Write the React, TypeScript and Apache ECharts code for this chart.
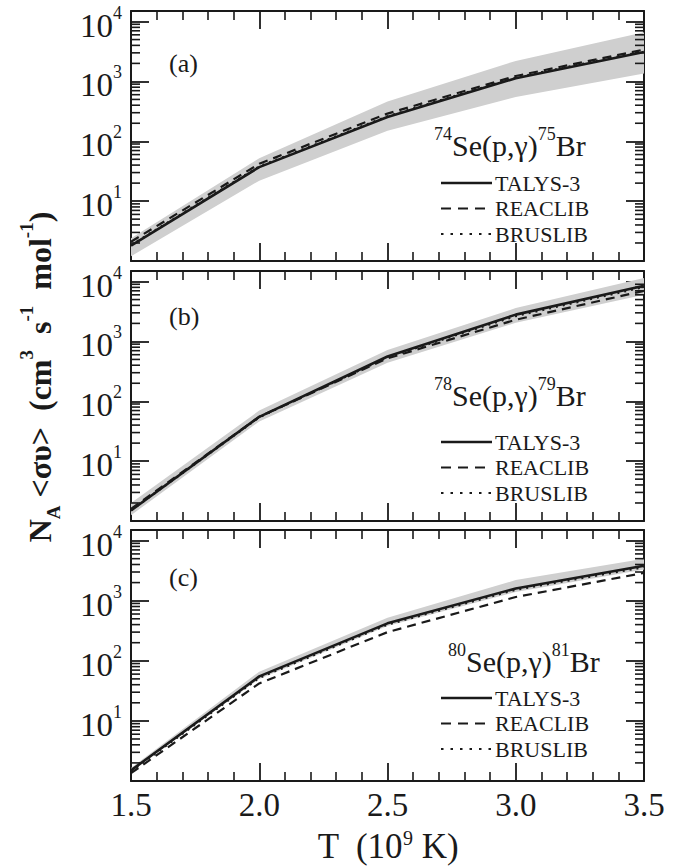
import React, { useEffect, useRef } from 'react';
import * as echarts from 'echarts';

// ---------- data ----------
const T_VALUES = [1.5, 2.0, 2.5, 3.0, 3.5];
const SERIES_NAMES = ['TALYS-3', 'REACLIB', 'BRUSLIB'];
const PANEL_TAGS = ['(a)', '(b)', '(c)'];
const REACTIONS = [
  ['74', '75'],
  ['78', '79'],
  ['80', '81'],
];

// (a) 74Se(p,γ)75Br
const A_TALYS = [1.8, 37, 255, 1130, 3100];
const A_REACLIB = [2.1, 42, 290, 1230, 3400];
const A_BRUSLIB = [1.85, 38, 262, 1160, 3200];
const A_BAND_LOW = [1.2, 22, 150, 550, 1350];
const A_BAND_HIGH = [2.4, 52, 460, 2200, 6600];
// (b) 78Se(p,γ)79Br
const B_TALYS = [1.5, 55, 560, 2800, 8500];
const B_REACLIB = [1.6, 55, 520, 2300, 7000];
const B_BRUSLIB = [1.5, 54, 545, 2650, 8100];
const B_BAND_LOW = [1.25, 46, 440, 2050, 6000];
const B_BAND_HIGH = [2.0, 70, 720, 3600, 11500];
// (c) 80Se(p,γ)81Br
const C_TALYS = [1.5, 55, 420, 1600, 3800];
const C_REACLIB = [1.35, 42, 300, 1150, 2900];
const C_BRUSLIB = [1.45, 52, 400, 1520, 3600];
const C_BAND_LOW = [1.45, 50, 380, 1400, 3300];
const C_BAND_HIGH = [1.65, 66, 520, 2200, 5000];

const PANEL_DATA = [
  { lines: [A_TALYS, A_REACLIB, A_BRUSLIB], low: A_BAND_LOW, high: A_BAND_HIGH },
  { lines: [B_TALYS, B_REACLIB, B_BRUSLIB], low: B_BAND_LOW, high: B_BAND_HIGH },
  { lines: [C_TALYS, C_REACLIB, C_BRUSLIB], low: C_BAND_LOW, high: C_BAND_HIGH },
];

const X_MIN = 1.5;
const X_MAX = 3.5;
const X_INTERVAL = 0.5;
const Y_MIN = 1;
const Y_MAX = 15000;
const DECADES = [1, 10, 100, 1000, 10000];
const MINOR_FACTORS = [2, 3, 4, 5, 6, 7, 8, 9];

// ---------- layout / style ----------
const FONT = "'Liberation Serif', 'Times New Roman', Times, serif";
const INK = '#1a1a1a';
const BAND = '#cfcfcf';
const GRID_LEFT = 131;
const GRID_WIDTH = 513;
const LEGEND_X = 441;
const LEGEND_LINE_LEN = 51;
const LEGEND_STEP = 25.5;
const PANELS = [
  { top: 11, height: 250, tagY: 63, reactX: 434, reactY: 145, legendCenter: 183 },
  { top: 271, height: 250, tagY: 316, reactX: 434, reactY: 395, legendCenter: 442 },
  { top: 530, height: 251, tagY: 577, reactX: 448, reactY: 661, legendCenter: 698 },
];
const LINE_STYLES = [
  { type: 'solid', dash: null as any, width: 2.6 },
  { type: [9, 6], dash: [10, 7], width: 2.2 },
  { type: [2, 5], dash: [2.5, 7], width: 2.2 },
];

const minorValues: number[] = [];
DECADES.forEach((d) =>
  MINOR_FACTORS.forEach((f) => {
    const v = d * f;
    if (v < Y_MAX) minorValues.push(v);
  })
);

function buildOption() {
  const grid: any[] = [];
  const xAxis: any[] = [];
  const yAxis: any[] = [];
  const series: any[] = [];
  const graphic: any[] = [];

  PANELS.forEach((p, i) => {
    grid.push({ left: GRID_LEFT, top: p.top, width: GRID_WIDTH, height: p.height, outerBoundsMode: 'none' });
    const isBottom = i === PANELS.length - 1;
    const xBase = {
      type: 'value',
      gridIndex: i,
      min: X_MIN,
      max: X_MAX,
      interval: X_INTERVAL,
      axisLine: { show: true, lineStyle: { color: INK, width: 2 } },
      axisTick: { show: true, inside: true, length: 18, lineStyle: { color: INK, width: 1.8 } },
      minorTick: { show: true, splitNumber: 5, length: 9, lineStyle: { color: INK, width: 1.6 } },
      splitLine: { show: false },
      minorSplitLine: { show: false },
    };
    xAxis.push({
      ...xBase,
      position: 'bottom',
      axisLabel: {
        show: isBottom,
        fontFamily: FONT,
        fontSize: 33,
        lineHeight: 30,
        color: INK,
        margin: 9,
        showMinLabel: true,
        showMaxLabel: true,
        formatter: (v: number) => v.toFixed(1),
      },
    });
    xAxis.push({ ...xBase, position: 'top', axisLabel: { show: false } });

    const yBase = {
      type: 'log',
      logBase: 10,
      gridIndex: i,
      min: Y_MIN,
      max: Y_MAX,
      axisLine: { show: true, lineStyle: { color: INK, width: 2 } },
      axisTick: { show: true, inside: true, length: 18, lineStyle: { color: INK, width: 1.8 } },
      splitLine: { show: false },
    };
    yAxis.push({
      ...yBase,
      position: 'left',
      axisLabel: {
        show: true,
        margin: 9,
        padding: [8, 0, 0, 0],
        formatter: (v: number) => {
          const e = Math.log10(v);
          const r = Math.round(e);
          if (Math.abs(e - r) > 1e-6 || r === 0) return '';
          return `{b|10}{s|${r}}`;
        },
        rich: {
          b: { fontFamily: FONT, fontSize: 33, color: INK, lineHeight: 44, verticalAlign: 'middle' },
          s: { fontFamily: FONT, fontSize: 18, color: INK, lineHeight: 18, verticalAlign: 'top' },
        },
      },
    });
    yAxis.push({ ...yBase, position: 'right', axisLabel: { show: false } });

    const d = PANEL_DATA[i];
    const bandLow = d.low;
    const bandHigh = d.high;
    series.push({
      type: 'custom',
      name: 'band' + i,
      xAxisIndex: i * 2,
      yAxisIndex: i * 2,
      z: 1,
      silent: true,
      data: T_VALUES.map((t, k) => [t, bandLow[k], bandHigh[k]]),
      encode: { x: 0, y: [1, 2] },
      renderItem: (params: any, api: any) => {
        if (params.dataIndex !== 0) return null;
        const pts: number[][] = [];
        T_VALUES.forEach((t, k) => pts.push(api.coord([t, bandHigh[k]])));
        for (let k = T_VALUES.length - 1; k >= 0; k--) pts.push(api.coord([T_VALUES[k], bandLow[k]]));
        return { type: 'polygon', shape: { points: pts }, style: { fill: BAND } };
      },
    });
    series.push({
      type: 'custom',
      name: 'minor' + i,
      xAxisIndex: i * 2,
      yAxisIndex: i * 2,
      z: 5,
      silent: true,
      data: minorValues.map((v) => [X_MIN, v]),
      encode: { x: 0, y: 1 },
      renderItem: (params: any, api: any) => {
        const v = api.value(1);
        const a = api.coord([X_MIN, v]);
        const b = api.coord([X_MAX, v]);
        const st = { stroke: INK, lineWidth: 1.6 };
        return {
          type: 'group',
          children: [
            { type: 'line', shape: { x1: a[0], y1: a[1], x2: a[0] + 9, y2: a[1] }, style: st },
            { type: 'line', shape: { x1: b[0] - 9, y1: b[1], x2: b[0], y2: b[1] }, style: st },
          ],
        };
      },
    });
    d.lines.forEach((vals, s) => {
      series.push({
        type: 'line',
        name: SERIES_NAMES[s],
        xAxisIndex: i * 2,
        yAxisIndex: i * 2,
        z: 3,
        symbol: 'none',
        data: T_VALUES.map((t, k) => [t, vals[k]]),
        lineStyle: { color: INK, width: LINE_STYLES[s].width, type: LINE_STYLES[s].type },
        itemStyle: { color: INK },
      });
    });

    // legend (drawn as graphic so the keys are pure line styles)
    SERIES_NAMES.forEach((name, s) => {
      const cy = p.legendCenter + s * LEGEND_STEP;
      const ls = LINE_STYLES[s];
      graphic.push({
        type: 'line',
        shape: { x1: LEGEND_X, y1: cy, x2: LEGEND_X + LEGEND_LINE_LEN, y2: cy },
        style: { stroke: INK, lineWidth: ls.width, lineDash: ls.dash },
      });
      graphic.push({
        type: 'text',
        x: LEGEND_X + LEGEND_LINE_LEN + 3,
        y: cy,
        style: { text: name, font: `22px ${FONT}`, fill: INK, verticalAlign: 'middle', align: 'left' },
      });
    });

    graphic.push({
      type: 'text',
      x: 169,
      y: p.tagY,
      style: { text: PANEL_TAGS[i], font: `26px ${FONT}`, fill: INK, verticalAlign: 'middle', align: 'left' },
    });
    graphic.push({
      type: 'text',
      x: p.reactX,
      y: p.reactY,
      style: {
        text: `{s|${REACTIONS[i][0]}}{b|Se(p,γ)}{s|${REACTIONS[i][1]}}{b|Br}`,
        verticalAlign: 'middle',
        align: 'left',
        rich: {
          b: { fontFamily: FONT, fontSize: 30, fill: INK, lineHeight: 40, verticalAlign: 'middle' },
          s: { fontFamily: FONT, fontSize: 18, fill: INK, lineHeight: 18, verticalAlign: 'top' },
        },
      },
    });
  });

  graphic.push({
    type: 'text',
    x: 40,
    y: 377,
    rotation: Math.PI / 2,
    style: {
      text: '{b|N}{sub|A}{b| <συ>  (cm}{sup|3}{b|  s}{sup|-1}{b|  mol}{sup|-1}{b|)}',
      align: 'center',
      verticalAlign: 'middle',
      rich: {
        b: { fontFamily: FONT, fontSize: 32, fontWeight: 'bold', fill: INK, lineHeight: 46, verticalAlign: 'middle' },
        sup: { fontFamily: FONT, fontSize: 19, fontWeight: 'bold', fill: INK, lineHeight: 19, verticalAlign: 'top' },
        sub: { fontFamily: FONT, fontSize: 19, fontWeight: 'bold', fill: INK, lineHeight: 19, verticalAlign: 'bottom' },
      },
    },
  });
  graphic.push({
    type: 'text',
    x: 388,
    y: 846,
    style: {
      text: '{b|T  (10}{sup|9}{b| K)}',
      align: 'center',
      verticalAlign: 'middle',
      rich: {
        b: { fontFamily: FONT, fontSize: 35, fill: INK, lineHeight: 36, verticalAlign: 'bottom' },
        sup: { fontFamily: FONT, fontSize: 20, fill: INK, lineHeight: 20, verticalAlign: 'top' },
      },
    },
  });

  return {
    animation: false,
    backgroundColor: '#ffffff',
    grid,
    xAxis,
    yAxis,
    graphic,
    series,
  };
}

export default function App() {
  const ref = useRef<HTMLDivElement>(null);
  useEffect(() => {
    document.body.style.margin = '0';
    if (!ref.current) return;
    const chart = echarts.init(ref.current, undefined, { renderer: 'svg' });
    chart.setOption(buildOption() as any);
    return () => chart.dispose();
  }, []);
  return <div ref={ref} style={{ width: 698, height: 868 }} />;
}
